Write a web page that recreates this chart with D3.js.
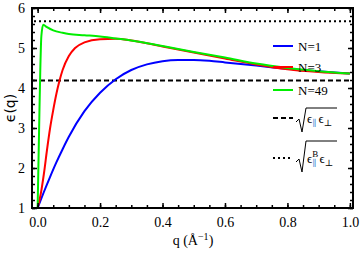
<!DOCTYPE html>
<html>
<head>
<meta charset="utf-8">
<script src="https://cdn.jsdelivr.net/npm/d3@7"></script>
<style>
  body { margin: 0; background: #fff; }
  svg text { font-family: "Liberation Serif", "DejaVu Serif", serif; fill: #000; }
</style>
</head>
<body>
<div id="chart"></div>
<script>
// values
const qN1 = [0, 0.02, 0.04, 0.06, 0.08, 0.10, 0.15, 0.20, 0.25, 0.30, 0.35, 0.40, 0.45, 0.50, 0.55, 0.60, 0.70, 0.80, 0.90, 1.00];
const epsN1 = [1.0, 1.40, 1.78, 2.14, 2.47, 2.78, 3.42, 3.88, 4.22, 4.45, 4.59, 4.67, 4.70, 4.70, 4.68, 4.64, 4.56, 4.48, 4.42, 4.36];

const qN3 = [0, 0.01, 0.02, 0.03, 0.04, 0.05, 0.06, 0.07, 0.08, 0.10, 0.12, 0.15, 0.20, 0.25, 0.30, 0.40, 0.50, 0.60, 0.70, 0.80, 0.90, 1.00];
const epsN3 = [1.0, 1.35, 1.85, 2.45, 3.00, 3.45, 3.85, 4.18, 4.45, 4.80, 5.00, 5.14, 5.22, 5.23, 5.19, 5.04, 4.89, 4.74, 4.59, 4.47, 4.40, 4.36];

const qN49 = [0, 0.006, 0.012, 0.018, 0.03, 0.05, 0.08, 0.10, 0.15, 0.20, 0.25, 0.30, 0.40, 0.50, 0.60, 0.70, 0.80, 0.90, 1.00];
const epsN49 = [1.0, 3.5, 5.3, 5.58, 5.52, 5.44, 5.38, 5.35, 5.32, 5.29, 5.24, 5.19, 5.05, 4.90, 4.76, 4.61, 4.50, 4.42, 4.36];

const epsGeo = 4.19;   // sqrt(eps_par eps_perp)
const epsGeoB = 5.67;  // sqrt(eps_par^B eps_perp)

const xTicks = [0, 0.2, 0.4, 0.6, 0.8, 1.0];
const yTicks = [1, 2, 3, 4, 5, 6];

const series = [
  { name: "N=1", q: qN1, eps: epsN1, color: "#0000ff" },
  { name: "N=3", q: qN3, eps: epsN3, color: "#ff0000" },
  { name: "N=49", q: qN49, eps: epsN49, color: "#00ee00" }
];

const W = 360, H = 253;
const fLeft = 32, fRight = 353, fTop = 8, fBottom = 208;

const svg = d3.select("#chart").append("svg")
  .attr("width", W).attr("height", H);

const x = d3.scaleLinear().domain([-0.018, 1.01]).range([fLeft, fRight]);
const y = d3.scaleLinear().domain([1, 6]).range([fBottom, fTop]);

svg.append("clipPath").attr("id", "clip")
  .append("rect").attr("x", fLeft).attr("y", fTop)
  .attr("width", fRight - fLeft).attr("height", fBottom - fTop);

// reference lines
svg.append("line")
  .attr("x1", fLeft).attr("x2", fRight)
  .attr("y1", y(epsGeo)).attr("y2", y(epsGeo))
  .attr("stroke", "#000").attr("stroke-width", 2)
  .attr("stroke-dasharray", "5,3");

svg.append("line")
  .attr("x1", fLeft + 2).attr("x2", fRight)
  .attr("y1", y(epsGeoB)).attr("y2", y(epsGeoB))
  .attr("stroke", "#000").attr("stroke-width", 2)
  .attr("stroke-dasharray", "2,3");

// curves
const line = d3.line()
  .x(d => x(d[0]))
  .y(d => y(d[1]))
  .curve(d3.curveMonotoneX);

const plot = svg.append("g").attr("clip-path", "url(#clip)");
series.forEach(s => {
  plot.append("path")
    .datum(s.q.map((q, i) => [q, s.eps[i]]))
    .attr("fill", "none")
    .attr("stroke", s.color)
    .attr("stroke-width", 2)
    .attr("d", line);
});

// frame with inside ticks on all sides
const frame = svg.append("g");
frame.append("g").attr("transform", `translate(0,${fBottom})`)
  .call(d3.axisBottom(x).tickValues(d3.range(0, 1.001, 0.05)).tickSize(-3).tickFormat(""));
frame.append("g").attr("transform", `translate(0,${fBottom})`)
  .call(d3.axisBottom(x).tickValues(xTicks).tickSize(-5).tickPadding(9).tickFormat(d3.format(".1f")));
frame.append("g").attr("transform", `translate(0,${fTop})`)
  .call(d3.axisTop(x).tickValues(d3.range(0, 1.001, 0.05)).tickSize(-3).tickFormat(""));
frame.append("g").attr("transform", `translate(0,${fTop})`)
  .call(d3.axisTop(x).tickValues(xTicks).tickSize(-5).tickFormat(""));
frame.append("g").attr("transform", `translate(${fLeft},0)`)
  .call(d3.axisLeft(y).tickValues(d3.range(1, 6.001, 0.2)).tickSize(-3).tickFormat(""));
frame.append("g").attr("transform", `translate(${fLeft},0)`)
  .call(d3.axisLeft(y).tickValues(yTicks).tickSize(-5).tickPadding(7).tickFormat(d3.format("d")));
frame.append("g").attr("transform", `translate(${fRight},0)`)
  .call(d3.axisRight(y).tickValues(d3.range(1, 6.001, 0.2)).tickSize(-3).tickFormat(""));
frame.append("g").attr("transform", `translate(${fRight},0)`)
  .call(d3.axisRight(y).tickValues(yTicks).tickSize(-5).tickFormat(""));

frame.selectAll(".domain").remove();
frame.selectAll(".tick line").attr("stroke", "#000").attr("stroke-width", 1.5);
frame.selectAll(".tick text")
  .style("font-family", "'Liberation Serif', serif")
  .style("font-size", "14px");

frame.append("rect")
  .attr("x", fLeft).attr("y", fTop)
  .attr("width", fRight - fLeft).attr("height", fBottom - fTop)
  .attr("fill", "none").attr("stroke", "#000").attr("stroke-width", 2);

// axis titles
svg.append("text")
  .attr("x", 193).attr("y", 245)
  .attr("text-anchor", "middle")
  .style("font-size", "14px")
  .html('q (Å<tspan dy="-5" font-size="10px">−1</tspan><tspan dy="5">)</tspan>');

svg.append("text")
  .attr("transform", "translate(15,108) rotate(-90)")
  .attr("text-anchor", "middle")
  .style("font-family", "'DejaVu Sans', sans-serif")
  .style("font-size", "14px")
  .text("ϵ(q)");

// legend
const lg = svg.append("g");
const lx1 = 273, lx2 = 293;
const entries = [
  { y: 46, color: "#0000ff", dash: null, label: "N=1" },
  { y: 67, color: "#ff0000", dash: null, label: "N=3" },
  { y: 90, color: "#00ee00", dash: null, label: "N=49" },
  { y: 118, color: "#000", dash: "5,3", label: null, sup: false },
  { y: 158, color: "#000", dash: "2,3", label: null, sup: true }
];
entries.forEach(e => {
  lg.append("line")
    .attr("x1", lx1).attr("x2", lx2)
    .attr("y1", e.y).attr("y2", e.y)
    .attr("stroke", e.color).attr("stroke-width", 2)
    .attr("stroke-dasharray", e.dash);
  if (e.label) {
    lg.append("text")
      .attr("x", 298).attr("y", e.y + 4.5)
      .style("font-size", "13px")
      .text(e.label);
  } else {
    const yt = e.sup ? e.y - 17 : e.y - 10;
    const yb = e.y + 14;
    lg.append("path")
      .attr("d", `M296,${e.y + 4} L299,${e.y + 1} L302,${yb} L306,${yt} L337,${yt}`)
      .attr("fill", "none").attr("stroke", "#000").attr("stroke-width", 1);
    const t = lg.append("text").attr("x", 307).attr("y", e.y + 5).style("font-size", "13px");
    t.append("tspan").text("ϵ");
    if (e.sup) {
      t.append("tspan").attr("dy", -6).attr("font-size", "9px").text("B");
      t.append("tspan").attr("dx", -6).attr("dy", 9).attr("font-size", "9px").attr("fill", "#4f8fd6").text("∥");
      t.append("tspan").attr("dx", 3).attr("dy", -3).text("ϵ");
    } else {
      t.append("tspan").attr("dy", 3).attr("font-size", "9px").attr("fill", "#4f8fd6").text("∥");
      t.append("tspan").attr("dx", 2).attr("dy", -3).text("ϵ");
    }
    t.append("tspan").attr("dy", 3).attr("font-size", "9px").text("⊥");
  }
});
</script>
</body>
</html>
